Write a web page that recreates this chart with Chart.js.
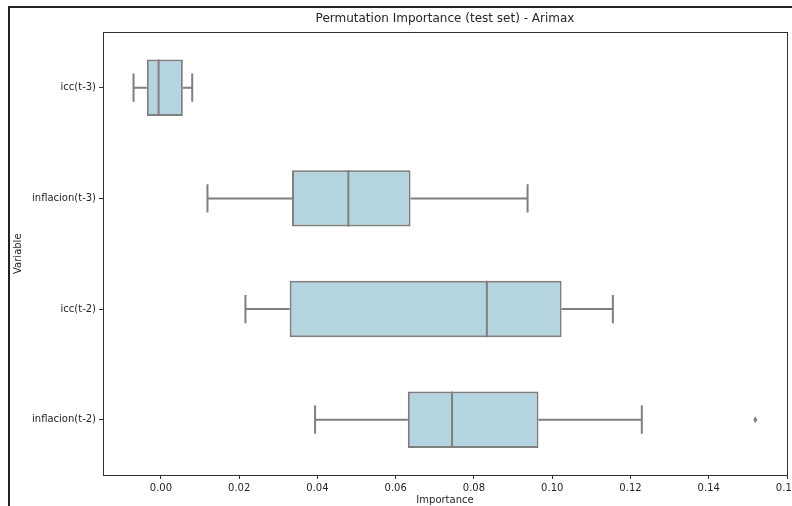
<!DOCTYPE html>
<html>
<head>
<meta charset="utf-8">
<script src="https://cdn.jsdelivr.net/npm/chart.js@4"></script>
<style>
  body { margin: 0; background: #fff; }
  #wrap { position: relative; width: 792px; height: 506px; overflow: hidden; }
  #frame { position: absolute; left: 8px; top: 6px; width: 790px; height: 506px;
           border-left: 2px solid #222; border-top: 2px solid #222; }
  canvas { position: absolute; left: 0; top: 0; }
</style>
</head>
<body>
<div id="wrap">
  <div id="frame"></div>
  <canvas id="chart" width="792" height="506"></canvas>
</div>
<script>
// Box plot statistics
const variables = ['icc(t-3)', 'inflacion(t-3)', 'icc(t-2)', 'inflacion(t-2)'];
const whiskerLow = [-0.0070, 0.0119, 0.0216, 0.0394];
const q1 = [-0.0036, 0.0335, 0.0329, 0.0631];
const median = [-0.0006, 0.0479, 0.0833, 0.0744];
const q3 = [0.0056, 0.0638, 0.1024, 0.0965];
const whiskerHigh = [0.0080, 0.0937, 0.1155, 0.1229];
const outliers = [[], [], [], [0.1519]];

const boxFill = '#b4d5e0';
const edge = '#7f7f7f';
const textColor = '#262626';

// whiskers, medians and outliers on top of the floating bars
const boxPlot = {
  id: 'boxPlot',
  afterDatasetsDraw(chart) {
    const ctx = chart.ctx;
    const xs = chart.scales.x, ys = chart.scales.y;
    const bars = chart.getDatasetMeta(0).data;
    ctx.save();
    ctx.strokeStyle = edge;
    ctx.fillStyle = edge;
    ctx.lineWidth = 2;
    variables.forEach((v, i) => {
      const yc = ys.getPixelForValue(i);
      const h = bars[i].height;
      const cap = h / 4;
      const pLo = xs.getPixelForValue(whiskerLow[i]);
      const pQ1 = xs.getPixelForValue(q1[i]);
      const pMed = xs.getPixelForValue(median[i]);
      const pQ3 = xs.getPixelForValue(q3[i]);
      const pHi = xs.getPixelForValue(whiskerHigh[i]);
      ctx.beginPath();
      ctx.moveTo(pLo, yc); ctx.lineTo(pQ1, yc);
      ctx.moveTo(pQ3, yc); ctx.lineTo(pHi, yc);
      ctx.moveTo(pLo, yc - cap); ctx.lineTo(pLo, yc + cap);
      ctx.moveTo(pHi, yc - cap); ctx.lineTo(pHi, yc + cap);
      ctx.moveTo(pMed, yc - h / 2); ctx.lineTo(pMed, yc + h / 2);
      ctx.stroke();
      outliers[i].forEach(o => {
        const px = xs.getPixelForValue(o);
        ctx.beginPath();
        ctx.moveTo(px, yc - 3.5);
        ctx.lineTo(px + 2, yc);
        ctx.lineTo(px, yc + 3.5);
        ctx.lineTo(px - 2, yc);
        ctx.closePath();
        ctx.fill();
      });
    });
    // plot frame
    const a = chart.chartArea;
    ctx.lineWidth = 1;
    ctx.strokeStyle = '#333';
    ctx.strokeRect(Math.round(a.left) + 0.5, Math.round(a.top) + 0.5,
                   Math.round(a.right - a.left), Math.round(a.bottom - a.top));
    ctx.restore();
  }
};

new Chart(document.getElementById('chart').getContext('2d'), {
  type: 'bar',
  data: {
    labels: variables,
    datasets: [{
      data: variables.map((v, i) => [q1[i], q3[i]]),
      backgroundColor: boxFill,
      borderColor: edge,
      borderWidth: 2,
      borderSkipped: false,
      barPercentage: 0.51,
      categoryPercentage: 1.0
    }]
  },
  options: {
    indexAxis: 'y',
    responsive: false,
    animation: false,
    layout: { padding: { left: 0, right: 5, top: 0, bottom: 0 } },
    plugins: {
      legend: { display: false },
      tooltip: { enabled: false },
      title: {
        display: true,
        text: 'Permutation Importance (test set) - Arimax',
        fullSize: false,
        color: textColor,
        font: { family: 'DejaVu Sans', size: 12, weight: 'normal' },
        padding: { top: 12, bottom: 6 }
      }
    },
    scales: {
      x: {
        type: 'linear',
        min: -0.0148,
        max: 0.16,
        grid: { display: true, drawOnChartArea: false, drawTicks: true, tickLength: 4, color: '#333' },
        border: { display: false },
        ticks: {
          stepSize: 0.02,
          includeBounds: false,
          autoSkip: false,
          maxRotation: 0,
          padding: 3,
          color: textColor,
          font: { family: 'DejaVu Sans', size: 10 },
          callback: v => v.toFixed(2)
        },
        title: {
          display: true,
          text: 'Importance',
          color: textColor,
          font: { family: 'DejaVu Sans', size: 10 },
          padding: { top: 0, bottom: 0 }
        },
        afterFit: s => { s.height = 31; s.paddingLeft = 0; s.paddingRight = 0; }
      },
      y: {
        type: 'category',
        grid: { display: true, drawOnChartArea: false, drawTicks: true, tickLength: 4, color: '#333', offset: false },
        border: { display: false },
        ticks: {
          padding: 3,
          color: textColor,
          font: { family: 'DejaVu Sans', size: 10 }
        },
        title: {
          display: true,
          text: 'Variable',
          color: textColor,
          font: { family: 'DejaVu Sans', size: 10 },
          padding: { top: 12, bottom: 0 }
        },
        afterFit: s => { s.width = 103; s.paddingTop = 0; s.paddingBottom = 0; }
      }
    }
  },
  plugins: [boxPlot]
});
</script>
</body>
</html>
